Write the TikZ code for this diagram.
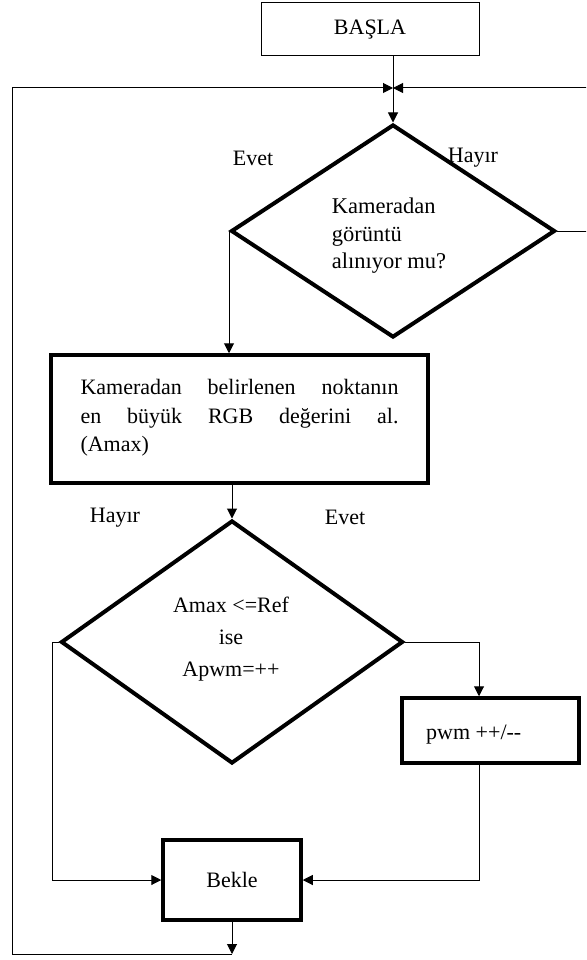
\documentclass[tikz,border=0pt]{standalone}
\usepackage{fontspec}
\setmainfont{Liberation Serif}
\usetikzlibrary{arrows.meta,shapes.geometric}
\begin{document}
\begin{tikzpicture}[x=1pt,y=-1pt,
  every node/.style={font=\fontsize{22}{28}\selectfont},
  thinbox/.style={draw, line width=1pt, inner sep=0pt},
  thickbox/.style={draw, line width=3.5pt, inner sep=0pt},
  dec/.style={draw, diamond, line width=4pt, inner sep=0pt},
  conn/.style={line width=1pt},
  arr/.style={conn, -{Triangle[length=10pt,width=10pt]}},
  lbl/.style={inner sep=0pt}]
\clip (0,0) rectangle (586,960);
\fill[white] (0,0) rectangle (586,960);
% nodes
\node[thinbox, minimum width=218pt, minimum height=53pt] (start) at (370,29.5) {BAŞLA};
\node[dec, minimum width=324pt, minimum height=213pt] (d1) at (393,231) {};
\node[lbl, align=left, font=\fontsize{22.5}{27.5}\selectfont] (d1t) at (389,236) {Kameradan\\görüntü\\alınıyor mu?};
\node[thickbox, minimum width=377pt, minimum height=128pt] (b2) at (239.5,419) {};
\node[lbl, text width=318pt, align=justify, font=\fontsize{22}{28.5}\selectfont] (b2t) at (239.5,418) {Kameradan belirlenen noktanın\linebreak en büyük RGB değerini al.\linebreak (Amax)};
\node[dec, minimum width=342pt, minimum height=243pt] (d2) at (232,642) {};
\node[lbl, align=center, font=\fontsize{22}{32}\selectfont] (d2t) at (231,639) {Amax <=Ref\\ise\\Apwm=++};
\node[thickbox, minimum width=177pt, minimum height=65pt] (pwm) at (490.5,730.5) {};
\node[lbl, anchor=west] (pwmt) at (426,735) {pwm ++/-{}-};
\node[thickbox, minimum width=138pt, minimum height=80pt] (bekle) at (232,880) {Bekle};
% labels
\node[lbl] (ev1) at (253,158) {Evet};
\node[lbl] (hy1) at (473,158) {Hayır};
\node[lbl] (hy2) at (115,518) {Hayır};
\node[lbl] (ev2) at (345,517) {Evet};
% coordinates
\coordinate (merge) at (393,88);
\coordinate (rtop) at (590,88);
\coordinate (loopB) at (232,954);
\coordinate (loopL) at (12,88);
\coordinate (lb) at (52,880);
\coordinate (rb) at (479,642);
% connectors
\draw[arr] (start.south -| merge) -- (d1.north);
\draw[arr] (d1.east) -| (rtop) -- (merge);
\draw[arr] (loopB) -| (loopL) -- (merge);
\draw[arr] (d1.west) -- (d1.west |- b2.north);
\draw[arr] (b2.south -| d2.north) -- (d2.north);
\draw[arr] (d2.west) -| (lb) -- (bekle.west);
\draw[arr] (d2.east) -- (rb) -- (rb |- pwm.north);
\draw[arr] (pwm.south -| rb) |- (bekle.east);
\draw[arr] (bekle.south) -- (loopB);
\end{tikzpicture}
\end{document}
